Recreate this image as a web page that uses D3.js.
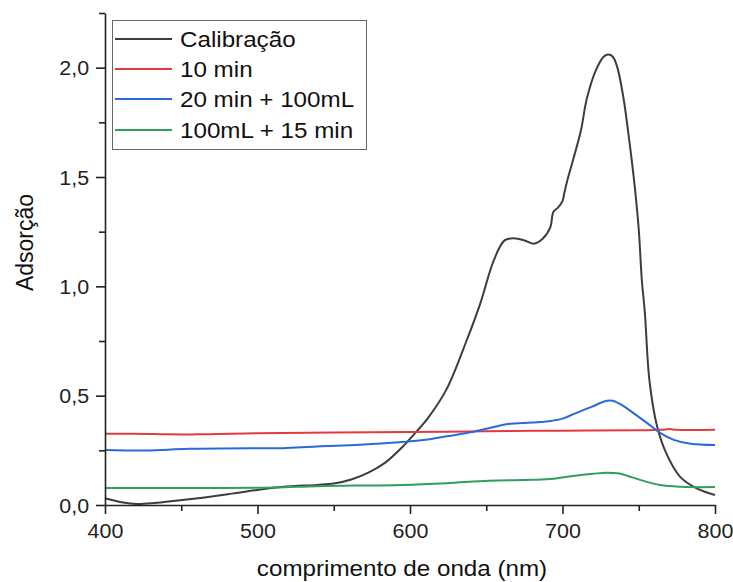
<!DOCTYPE html>
<html>
<head>
<meta charset="utf-8">
<script src="https://cdn.jsdelivr.net/npm/d3@7"></script>
<style>
body { margin: 0; background: #fff; }
svg { display: block; font-family: "Liberation Sans", Arial, sans-serif; }
</style>
</head>
<body>
<svg width="733" height="582"></svg>
<script>
// series (wavelength in nm, absorbance)
var calibNm = [400,412,421,432,455,483,500,517,539,550,562,573,584,595,604,612,624,637,646,655,662,668,675,681,687,692,694,697,700,701,703,707,712,716,722,727,730,733,736,740,743,747,750,752,754,757,762,768,777,788,800];
var calibAbs = [0.031,0.011,0.005,0.009,0.026,0.052,0.069,0.083,0.092,0.098,0.118,0.149,0.195,0.265,0.334,0.40,0.53,0.75,0.92,1.12,1.21,1.22,1.21,1.195,1.218,1.27,1.34,1.36,1.39,1.42,1.48,1.58,1.71,1.86,1.99,2.05,2.06,2.05,2.0,1.86,1.71,1.48,1.26,1.03,0.88,0.57,0.36,0.237,0.13,0.076,0.046];

var min10Nm = [400,430,460,500,550,600,650,700,750,765,770,775,800];
var min10Abs = [0.326,0.325,0.323,0.328,0.331,0.334,0.337,0.340,0.342,0.344,0.347,0.344,0.344];

var min20Nm = [400,427,455,500,517,539,567,595,610,624,638,652,663,680,691,700,708,719,729,733,739,747,756,764,773,784,800];
var min20Abs = [0.252,0.249,0.257,0.26,0.26,0.268,0.275,0.288,0.298,0.314,0.33,0.352,0.369,0.377,0.383,0.395,0.418,0.449,0.477,0.477,0.457,0.418,0.372,0.33,0.298,0.28,0.274];

var ml100Nm = [400,455,511,539,595,624,652,680,694,708,720,729,736,743,750,764,778,800];
var ml100Abs = [0.078,0.078,0.08,0.086,0.092,0.1,0.111,0.115,0.12,0.134,0.143,0.148,0.145,0.133,0.117,0.091,0.083,0.082];

var seriesNames = ['Calibração', '10 min', '20 min + 100mL', '100mL + 15 min'];
var seriesColors = ['#3d3d3d', '#e23a3e', '#2a6ad8', '#2f9e60'];

var xMajor = [400, 500, 600, 700, 800];
var xMinor = [450, 550, 650, 750];
var yMajor = [0, 0.5, 1.0, 1.5, 2.0];
var yMinor = [0.25, 0.75, 1.25, 1.75, 2.25];
var yTickLabels = ['0,0', '0,5', '1,0', '1,5', '2,0'];

var svg = d3.select('svg');
var padding = {t: 13, r: 18, b: 77, l: 105};
var chartW = 733 - padding.l - padding.r;
var chartH = 582 - padding.t - padding.b;

var x = d3.scaleLinear().domain([400, 800]).range([0, chartW]);
var y = d3.scaleLinear().domain([0, 2.25]).range([chartH, 0]);

var chartG = svg.append('g')
    .attr('transform', 'translate(' + padding.l + ',' + padding.t + ')');

function zip(a, b) {
    return a.map(function(v, i) { return {nm: v, abs: b[i]}; });
}
var series = [zip(calibNm, calibAbs), zip(min10Nm, min10Abs), zip(min20Nm, min20Abs), zip(ml100Nm, ml100Abs)];

var line = d3.line()
    .x(function(d) { return x(d.nm); })
    .y(function(d) { return y(d.abs); })
    .curve(d3.curveCatmullRom.alpha(0.5));

chartG.selectAll('.serie')
    .data(series)
    .enter()
    .append('path')
    .attr('class', 'serie')
    .attr('fill', 'none')
    .attr('stroke', function(d, i) { return seriesColors[i]; })
    .attr('stroke-width', 2)
    .attr('stroke-linejoin', 'round')
    .attr('d', line);

// minor ticks first, then major axes on top
chartG.append('g')
    .attr('transform', 'translate(0,' + chartH + ')')
    .call(d3.axisBottom(x).tickValues(xMinor).tickSize(6).tickFormat(''))
    .call(function(g) { g.select('.domain').remove(); });
chartG.append('g')
    .call(d3.axisLeft(y).tickValues(yMinor).tickSize(6).tickFormat(''))
    .call(function(g) { g.select('.domain').remove(); });

var xAxis = chartG.append('g')
    .attr('transform', 'translate(0,' + chartH + ')')
    .call(d3.axisBottom(x).tickValues(xMajor).tickSizeInner(9).tickSizeOuter(0).tickFormat(d3.format('d')));
xAxis.selectAll('text')
    .attr('y', 33).attr('dy', 0)
    .attr('transform', 'scale(1.1,1)');

var yAxis = chartG.append('g')
    .call(d3.axisLeft(y).tickValues(yMajor).tickSizeInner(9).tickSizeOuter(0)
        .tickFormat(function(d, i) { return yTickLabels[i]; }));
yAxis.selectAll('text')
    .attr('x', -14.5).attr('dy', '0.36em')
    .attr('transform', 'scale(1.1,1)');

svg.selectAll('.domain, .tick line').attr('stroke', '#222').attr('stroke-width', 1.6);
svg.selectAll('.tick text').attr('fill', '#222').style('font-size', '19.5px')
    .style('font-family', '"Liberation Sans", Arial, sans-serif');

// legend
var legend = svg.append('g');
legend.append('rect')
    .attr('x', 112.5).attr('y', 20.5)
    .attr('width', 254).attr('height', 129)
    .attr('fill', '#fff').attr('stroke', '#666').attr('stroke-width', 1);
var rowY = [39, 69, 99, 130];
seriesNames.forEach(function(name, i) {
    legend.append('line')
        .attr('x1', 115).attr('x2', 172)
        .attr('y1', rowY[i]).attr('y2', rowY[i])
        .attr('stroke', seriesColors[i]).attr('stroke-width', 2);
    legend.append('text')
        .attr('transform', 'translate(180,' + (rowY[i] + 7.5) + ') scale(1.1,1)')
        .style('font-size', '22px')
        .attr('fill', '#111')
        .text(name);
});

// axis titles
svg.append('text')
    .attr('transform', 'translate(402,576) scale(1.1,1)')
    .attr('text-anchor', 'middle')
    .style('font-size', '22px')
    .attr('fill', '#111')
    .text('comprimento de onda (nm)');

svg.append('text')
    .attr('transform', 'translate(33,242.5) rotate(-90)')
    .attr('text-anchor', 'middle')
    .style('font-size', '23px')
    .attr('fill', '#111')
    .text('Adsorção');
</script>
</body>
</html>
